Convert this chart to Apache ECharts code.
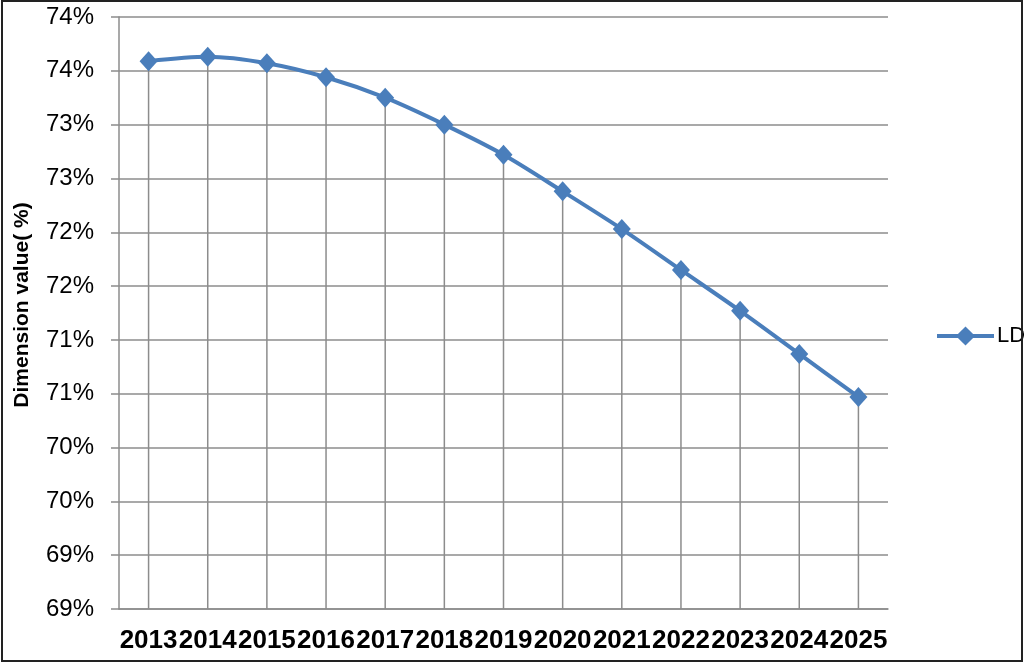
<!DOCTYPE html>
<html>
<head>
<meta charset="utf-8">
<script src="https://cdn.jsdelivr.net/npm/echarts@6/dist/echarts.min.js"></script>
<style>
  html, body { margin: 0; padding: 0; background: #fff; }
  #chart { width: 1024px; height: 663px; position: absolute; left: 0; top: 0; }
  #frame { position: absolute; left: 1px; top: 0px; width: 1022px; height: 662px; box-sizing: border-box; border: 2px solid #222; pointer-events: none; }
</style>
</head>
<body>
<div id="chart"></div>
<div id="frame"></div>
<script>
const years = ['2013','2014','2015','2016','2017','2018','2019','2020','2021','2022','2023','2024','2025'];
const ldValues = [73.59, 73.63, 73.57, 73.44, 73.25, 73.00, 72.72, 72.38, 72.03, 71.65, 71.27, 70.87, 70.47];
const yTickLabels = ['69%','69%','70%','70%','71%','71%','72%','72%','73%','73%','74%','74%'];
const seriesName = 'LD';
const yTitle = 'Dimension value( %)';

const yMin = 68.5, yMax = 74, yStep = 0.5;
const gridColor = '#8c8c8c';
const lineColor = '#4a7ebb';

const chart = echarts.init(document.getElementById('chart'), null, { renderer: 'canvas' });
chart.setOption({
  animation: false,
  backgroundColor: '#fff',
  grid: { left: 119, right: 136, top: 17, bottom: 54, containLabel: false, outerBoundsMode: 'none' },
  legend: {
    data: [seriesName],
    left: 930, top: 320,
    itemWidth: 57, itemHeight: 24, itemGap: 0,
    lineStyle: { width: 4 },
    textStyle: { fontFamily: 'Liberation Sans', fontSize: 22, color: '#000', padding: [0,0,0,-2] }
  },
  xAxis: {
    type: 'category',
    data: years,
    boundaryGap: true,
    axisLine: { show: true, lineStyle: { color: gridColor, width: 1.5 } },
    axisTick: { show: false },
    splitLine: { show: false },
    axisLabel: {
      interval: 0, hideOverlap: false, margin: 19,
      fontFamily: 'Liberation Sans', fontWeight: 'bold', fontSize: 26, color: '#000'
    }
  },
  yAxis: {
    type: 'value',
    min: yMin, max: yMax, interval: yStep,
    name: yTitle,
    nameLocation: 'middle',
    nameGap: 86,
    nameRotate: 90,
    nameTextStyle: { fontFamily: 'Liberation Sans', fontWeight: 'bold', fontSize: 21, color: '#000', padding: [0, 0, 0, 16] },
    axisLine: { show: true, lineStyle: { color: gridColor, width: 1.5 } },
    axisTick: { show: true, inside: false, length: 8, lineStyle: { color: gridColor, width: 1.5 } },
    splitLine: { show: true, lineStyle: { color: gridColor, width: 1.5 } },
    axisLabel: {
      margin: 25,
      fontFamily: 'Liberation Sans', fontSize: 24, color: '#000',
      formatter: function (v) {
        const i = Math.round((v - yMin) / yStep);
        return yTickLabels[i] !== undefined ? yTickLabels[i] : '';
      }
    }
  },
  series: [
    {
      name: 'drop',
      type: 'bar',
      data: ldValues,
      barWidth: 1.5,
      silent: true,
      z: 1,
      itemStyle: { color: gridColor },
      clip: true
    },
    {
      name: seriesName,
      type: 'line',
      data: ldValues,
      smooth: 0.3,
      symbol: 'diamond',
      symbolSize: [18, 20],
      z: 3,
      lineStyle: { color: lineColor, width: 4 },
      itemStyle: { color: lineColor }
    }
  ]
});
</script>
</body>
</html>
